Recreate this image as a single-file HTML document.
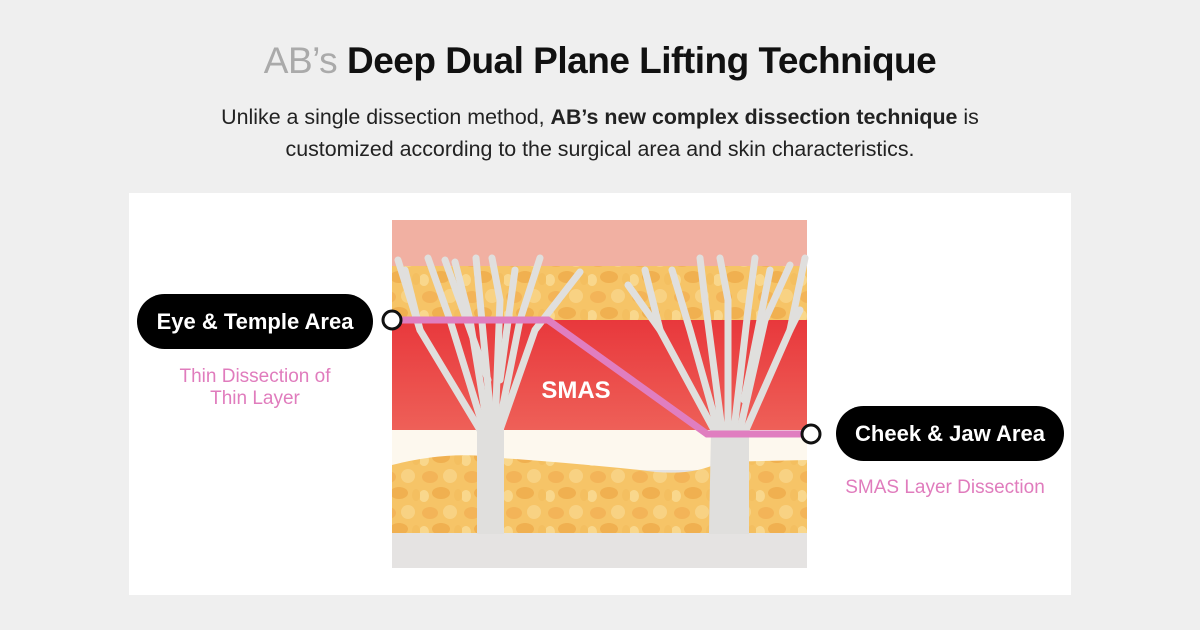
<!DOCTYPE html>
<html><head><meta charset="utf-8"><style>
body{margin:0;width:1200px;height:630px;background:#efefef;font-family:"Liberation Sans",sans-serif;position:relative;overflow:hidden}
.t{position:absolute;left:0;width:1200px;text-align:center}
.pill{position:absolute;background:#000;color:#fff;font-weight:bold;font-size:22px;border-radius:28px;display:flex;align-items:center;justify-content:center}
.pk{position:absolute;color:#e07cbd;font-size:19px;text-align:center;line-height:22px}
</style></head><body>
<div class="t" style="top:40px;font-size:37px;font-weight:bold;letter-spacing:-0.5px;color:#111"><span style="font-weight:normal;color:#aaa">AB’s</span> Deep Dual Plane Lifting Technique</div>
<div class="t" style="top:101px;font-size:21.4px;line-height:32px;color:#222">Unlike a single dissection method, <b>AB’s new complex dissection technique</b> is<br>customized according to the surgical area and skin characteristics.</div>
<div style="position:absolute;left:129px;top:193px;width:942px;height:402px;background:#fff"></div>
<svg style="position:absolute;left:0;top:0" width="1200" height="630">
<defs><pattern id="fat" width="42" height="36" patternUnits="userSpaceOnUse">
<rect width="42" height="36" fill="#f6c467"/>
<ellipse cx="10" cy="9" rx="8" ry="6" fill="#f3b458"/><ellipse cx="30" cy="8" rx="7" ry="7" fill="#f8d283"/>
<ellipse cx="21" cy="25" rx="9" ry="6" fill="#f0b050"/><ellipse cx="4" cy="28" rx="5" ry="6" fill="#f9d78c"/><ellipse cx="38" cy="27" rx="4" ry="6" fill="#f4bf60"/>
</pattern>
<linearGradient id="red" x1="0" y1="0" x2="0" y2="1"><stop offset="0" stop-color="#e8383c"/><stop offset="1" stop-color="#ee6058"/></linearGradient></defs>
<rect x="392" y="220" width="415" height="348" fill="#e5e3e2"/>
<rect x="392" y="220" width="415" height="46" fill="#f1b0a2"/>
<rect x="392" y="266" width="415" height="54" fill="url(#fat)"/>
<rect x="392" y="320" width="415" height="110" fill="url(#red)"/>
<rect x="392" y="430" width="415" height="40" fill="#fdf8ee"/>
<path d="M392 465 Q450 450 500 458 Q560 462 640 470 Q690 478 720 462 L807 460 L807 533 L392 533Z" fill="url(#fat)"/>
<g stroke="#e0dfdd" stroke-linecap="round" fill="none">
<path d="M478 533 L478 430 L503 430 L503 533Z" fill="#e0dfdd" stroke-width="2"/>
<g stroke-width="7">
<path d="M480 430 L420 330 L398 260"/><path d="M484 430 L450 320 L428 258"/><path d="M488 430 L470 320 L455 262"/>
<path d="M492 430 L480 300 L476 258"/><path d="M495 430 L500 300 L492 258"/><path d="M498 430 L520 320 L540 258"/>
<path d="M500 430 L535 330 L580 272"/><path d="M488 380 L445 260"/><path d="M500 380 L515 270"/><path d="M420 330 L405 270"/>
</g>
<path d="M710 533 L712 430 L748 430 L748 533Z" fill="#e0dfdd" stroke-width="2"/>
<g stroke-width="7">
<path d="M714 430 L660 330 L628 285"/><path d="M718 430 L690 330 L672 270"/><path d="M722 430 L705 300 L700 258"/>
<path d="M728 430 L728 300 L720 258"/><path d="M734 430 L748 310 L755 258"/><path d="M740 430 L765 320 L790 265"/>
<path d="M746 430 L790 330 L805 258"/><path d="M744 400 L770 270"/><path d="M660 330 L645 270"/><path d="M790 330 L800 310"/>
</g></g>
<text x="576" y="398" fill="#fff" font-size="24" font-weight="bold" font-family="Liberation Sans,sans-serif" text-anchor="middle">SMAS</text>
<polyline points="392,320 548,320 707,434 811,434" fill="none" stroke="#e07ec0" stroke-width="7"/>
<circle cx="392" cy="320" r="9" fill="#fff" stroke="#111" stroke-width="3"/>
<circle cx="811" cy="434" r="9" fill="#fff" stroke="#111" stroke-width="3"/>
</svg>
<div class="pill" style="left:137px;top:294px;width:236px;height:55px">Eye &amp; Temple Area</div>
<div class="pill" style="left:836px;top:406px;width:228px;height:55px">Cheek &amp; Jaw Area</div>
<div class="pk" style="left:145px;top:366px;width:220px">Thin Dissection of<br>Thin Layer</div>
<div class="pk" style="left:825px;top:477px;width:240px">SMAS Layer Dissection</div>
</body></html>
